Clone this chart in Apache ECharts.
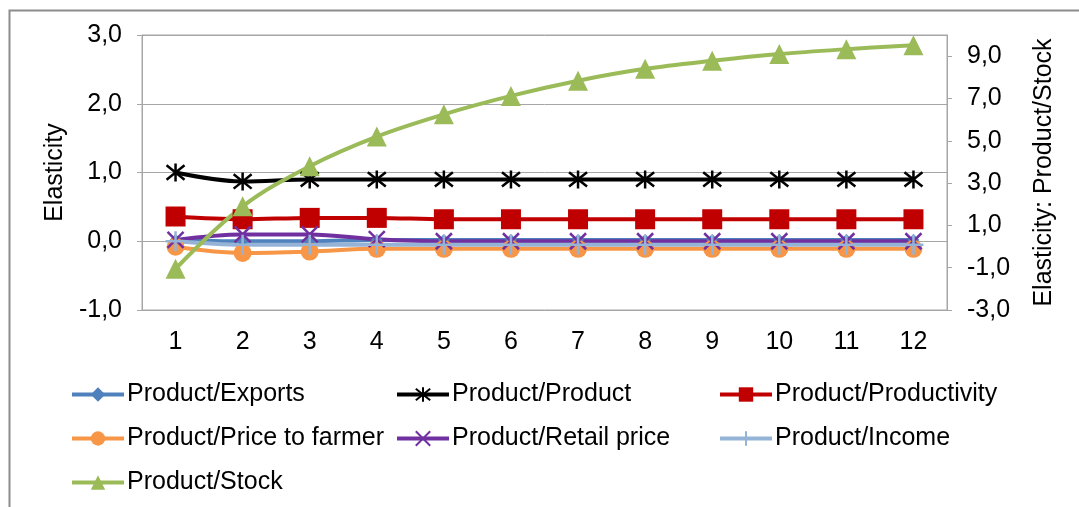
<!DOCTYPE html>
<html>
<head>
<meta charset="utf-8">
<script src="https://cdn.jsdelivr.net/npm/echarts@6/dist/echarts.min.js"></script>
<style>
html,body{margin:0;padding:0;background:#fff;}
#c{width:1079px;height:507px;}
</style>
</head>
<body>
<div id="c"></div>
<script>
var categories = ['1','2','3','4','5','6','7','8','9','10','11','12'];
var leftTicks = [-1, 0, 1, 2, 3];
var rightTicks = [-3, -1, 1, 3, 5, 7, 9];

var exportsVals      = [0.02, 0.00, 0.00, 0.02, 0.02, 0.02, 0.02, 0.02, 0.02, 0.02, 0.02, 0.02];
var productVals      = [1.00, 0.87, 0.90, 0.90, 0.90, 0.90, 0.90, 0.90, 0.90, 0.90, 0.90, 0.90];
var productivityVals = [0.36, 0.32, 0.34, 0.34, 0.32, 0.32, 0.32, 0.32, 0.32, 0.32, 0.32, 0.32];
var priceFarmerVals  = [-0.08, -0.17, -0.15, -0.11, -0.11, -0.11, -0.11, -0.11, -0.11, -0.11, -0.11, -0.11];
var retailVals       = [0.02, 0.10, 0.10, 0.03, 0.00, 0.00, 0.00, 0.00, 0.00, 0.00, 0.00, 0.00];
var incomeVals       = [0.00, -0.05, -0.05, -0.05, -0.05, -0.05, -0.05, -0.05, -0.05, -0.05, -0.05, -0.05];
var stockVals        = [-1.05, 1.90, 3.80, 5.20, 6.25, 7.12, 7.84, 8.40, 8.78, 9.10, 9.33, 9.52];

var FONT = 'Liberation Sans, Arial, sans-serif';
var FS = 25;
function fmt(v){ return v.toFixed(1).replace('.', ','); }

var chart = echarts.init(document.getElementById('c'), null, {renderer:'canvas'});

function mk(name, data, color, symbol, size, yIdx, strokeSymbol){
  var s = {
    name: name, type: 'line', data: data, yAxisIndex: yIdx || 0,
    smooth: 0.35, symbol: symbol, symbolSize: size, showAllSymbol: true,
    lineStyle: {color: color, width: 4},
    itemStyle: {color: color},
    emphasis: {disabled: true},
    animation: false
  };
  if (strokeSymbol) {
    s.itemStyle = {color: color, borderColor: color, borderWidth: 2.5};
  }
  return s;
}

var asterisk = 'path://M0,-10L0,10M-8,-8L8,8M-8,8L8,-8';
var xmark = 'path://M-8,-8L8,8M-8,8L8,-8';
var plus = 'path://M0,-10L0,10M-10,0L10,0';

var legendCommon = {
  orient: 'vertical', itemWidth: 52, itemHeight: 18, itemGap: 19,
  textStyle: {fontFamily: FONT, fontSize: FS, color: '#000', padding: [0, 0, 0, -2]},
  lineStyle: {width: 4},
  selectedMode: false, top: 382, padding: 0
};

chart.setOption({
  backgroundColor: '#fff',
  animation: false,
  graphic: [{
    type: 'rect', left: 7, top: 8, silent: true,
    shape: {x: 0, y: 0, width: 1200, height: 600},
    style: {fill: 'none', stroke: '#8c8c8c', lineWidth: 2}
  }],
  grid: {left: 142, right: 132, top: 35, bottom: 197, show: true, borderColor: '#a6a6a6', borderWidth: 1},
  legend: [
    Object.assign({left: 70, data: ['Product/Exports', 'Product/Price to farmer', 'Product/Stock']}, legendCommon),
    Object.assign({left: 395, data: ['Product/Product', 'Product/Retail price']}, legendCommon),
    Object.assign({left: 718, data: ['Product/Productivity', 'Product/Income']}, legendCommon)
  ],
  xAxis: {
    type: 'category', data: categories, boundaryGap: true,
    axisLine: {show: false}, axisTick: {show: false},
    axisLabel: {fontFamily: FONT, fontSize: FS, color: '#000', margin: 20},
    splitLine: {show: false}
  },
  yAxis: [{
    type: 'value', min: leftTicks[0], max: leftTicks[leftTicks.length-1], interval: 1,
    name: 'Elasticity', nameLocation: 'middle', nameGap: 64, nameRotate: 90,
    nameTextStyle: {fontFamily: FONT, fontSize: FS, color: '#000'},
    axisLine: {show: true, lineStyle: {color: '#a6a6a6'}},
    axisTick: {show: true, length: 5, lineStyle: {color: '#a6a6a6'}},
    axisLabel: {fontFamily: FONT, fontSize: FS, color: '#000', margin: 20, formatter: fmt},
    splitLine: {show: true, lineStyle: {color: '#a6a6a6', width: 1}}
  }, {
    type: 'value', min: rightTicks[0], max: 10, position: 'right',
    name: 'Elasticity: Product/Stock', nameLocation: 'middle', nameGap: 85, nameRotate: 90,
    nameTextStyle: {fontFamily: FONT, fontSize: FS, color: '#000'},
    axisLine: {show: true, lineStyle: {color: '#a6a6a6'}},
    axisTick: {show: true, length: 5, lineStyle: {color: '#a6a6a6'}, customValues: rightTicks},
    axisLabel: {fontFamily: FONT, fontSize: FS, color: '#000', margin: 20, formatter: fmt, customValues: rightTicks},
    splitLine: {show: false}
  }],
  series: [
    mk('Product/Exports', exportsVals, '#4F81BD', 'diamond', 12),
    mk('Product/Product', productVals, '#000000', asterisk, 18, 0, true),
    mk('Product/Productivity', productivityVals, '#C00000', 'rect', 20),
    mk('Product/Price to farmer', priceFarmerVals, '#F79646', 'circle', 18),
    mk('Product/Retail price', retailVals, '#7030A0', xmark, 16, 0, true),
    mk('Product/Income', incomeVals, '#95B3D7', plus, 20, 0, true),
    mk('Product/Stock', stockVals, '#9BBB59', 'triangle', 20, 1)
  ]
});
</script>
</body>
</html>
